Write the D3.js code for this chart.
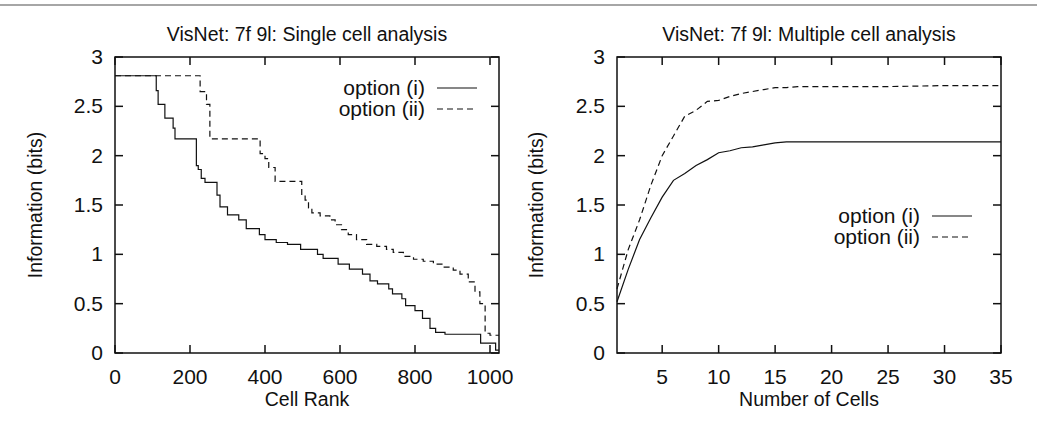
<!DOCTYPE html>
<html>
<head>
<meta charset="utf-8">
<script src="https://cdn.jsdelivr.net/npm/d3@7"></script>
<style>
  body { margin: 0; background: #fff; }
  text { font-family: "Liberation Sans", Arial, sans-serif; fill: #111; }
  .line { fill: none; stroke: #111; stroke-width: 1.2; }
  .dashed { stroke-dasharray: 6,4; }
</style>
</head>
<body>
<svg id="chart" width="1037" height="430"></svg>
<script>
// single cell analysis: [cell rank, bits]
var singleOpt1 = [[0,2.81],[110,2.66],[115,2.52],[133,2.38],[155,2.28],[160,2.17],[217,1.9],[222,1.86],[230,1.77],[240,1.73],[272,1.6],[280,1.48],[300,1.4],[330,1.35],[350,1.26],[385,1.2],[400,1.15],[430,1.12],[460,1.1],[495,1.05],[540,1.0],[555,0.96],[595,0.9],[625,0.85],[660,0.8],[680,0.73],[700,0.7],[730,0.65],[740,0.6],[765,0.55],[775,0.48],[800,0.43],[820,0.35],[840,0.25],[855,0.21],[880,0.19],[975,0.1],[1015,0.03],[1024,0.03]];
var singleOpt2 = [[0,2.81],[227,2.65],[244,2.52],[253,2.17],[387,2.02],[400,1.97],[410,1.88],[427,1.74],[498,1.6],[507,1.55],[516,1.47],[525,1.42],[547,1.39],[573,1.35],[587,1.3],[604,1.25],[622,1.2],[644,1.15],[671,1.1],[698,1.08],[724,1.05],[742,1.02],[769,0.98],[796,0.95],[822,0.93],[849,0.9],[876,0.87],[902,0.84],[920,0.8],[942,0.72],[960,0.62],[973,0.5],[987,0.2],[1000,0.18],[1024,0.18]];
// multiple cell analysis
var nCells = [1,2,3,4,5,6,7,8,9,10,11,12,13,14,15,16,17,20,25,30,35];
var multiOpt1 = [0.52,0.85,1.15,1.37,1.58,1.75,1.82,1.9,1.96,2.03,2.05,2.08,2.09,2.11,2.13,2.14,2.14,2.14,2.14,2.14,2.14];
var multiOpt2 = [0.65,1.05,1.35,1.7,2.0,2.2,2.4,2.46,2.55,2.56,2.6,2.63,2.65,2.67,2.69,2.69,2.7,2.7,2.7,2.71,2.71];
var legendLabels = ["option (i)", "option (ii)"];
var yTicks = [0,0.5,1,1.5,2,2.5,3];

var svg = d3.select("#chart");
svg.append("line").attr("x1",0).attr("x2",1037).attr("y1",5).attr("y2",5)
   .attr("stroke","#888").attr("stroke-width",1.5);

function panel(opt) {
  var g = svg.append("g");
  var x = d3.scaleLinear().domain(opt.xDomain).range([opt.left, opt.right]);
  var y = d3.scaleLinear().domain([0,3]).range([353,57]);

  g.append("rect").attr("x",opt.left).attr("y",57)
    .attr("width",opt.right-opt.left).attr("height",296)
    .attr("fill","none").attr("stroke","#111").attr("stroke-width",1.5);

  // ticks inward on all four sides
  opt.xTicks.forEach(function(t){
    [[353,-8],[57,8]].forEach(function(p){
      g.append("line").attr("x1",x(t)).attr("x2",x(t)).attr("y1",p[0]).attr("y2",p[0]+p[1])
        .attr("stroke","#111").attr("stroke-width",1.5);
    });
    g.append("text").attr("x",x(t)).attr("y",384).attr("text-anchor","middle")
      .attr("font-size",21).text(t);
  });
  yTicks.forEach(function(t){
    [[opt.left,8],[opt.right,-8]].forEach(function(p){
      g.append("line").attr("x1",p[0]).attr("x2",p[0]+p[1]).attr("y1",y(t)).attr("y2",y(t))
        .attr("stroke","#111").attr("stroke-width",1.5);
    });
    g.append("text").attr("x",opt.left-12).attr("y",y(t)+7).attr("text-anchor","end")
      .attr("font-size",21).text(t);
  });

  var line = d3.line().x(d => x(d[0])).y(d => y(d[1])).curve(opt.curve);
  g.append("path").attr("class","line").attr("d",line(opt.s1));
  g.append("path").attr("class","line dashed").attr("d",line(opt.s2));

  g.append("text").attr("x",(opt.left+opt.right)/2).attr("y",41).attr("text-anchor","middle")
    .attr("font-size",19.5).text(opt.title);
  g.append("text").attr("x",(opt.left+opt.right)/2).attr("y",406).attr("text-anchor","middle")
    .attr("font-size",19.5).text(opt.xLabel);
  g.append("text").attr("transform","translate("+opt.yLabelX+",205) rotate(-90)")
    .attr("text-anchor","middle").attr("font-size",19.5).text("Information (bits)");

  legendLabels.forEach(function(l,i){
    var ly = opt.legendY + i*21;
    g.append("text").attr("x",opt.legendX).attr("y",ly+7).attr("text-anchor","end")
      .attr("font-size",21).text(l);
    g.append("line").attr("class", i ? "line dashed" : "line")
      .attr("x1",opt.legendX+12).attr("x2",opt.legendX+52).attr("y1",ly).attr("y2",ly);
  });
}

panel({left:115, right:499, xDomain:[0,1024], xTicks:[0,200,400,600,800,1000],
  s1:singleOpt1, s2:singleOpt2, curve:d3.curveStepAfter,
  title:"VisNet: 7f 9l: Single cell analysis", xLabel:"Cell Rank",
  yLabelX:42, legendX:425, legendY:88});

panel({left:617, right:1001, xDomain:[1,35], xTicks:[5,10,15,20,25,30,35],
  s1:nCells.map((n,i) => [n, multiOpt1[i]]), s2:nCells.map((n,i) => [n, multiOpt2[i]]),
  curve:d3.curveLinear,
  title:"VisNet: 7f 9l: Multiple cell analysis", xLabel:"Number of Cells",
  yLabelX:543, legendX:920, legendY:216});
</script>
</body>
</html>
